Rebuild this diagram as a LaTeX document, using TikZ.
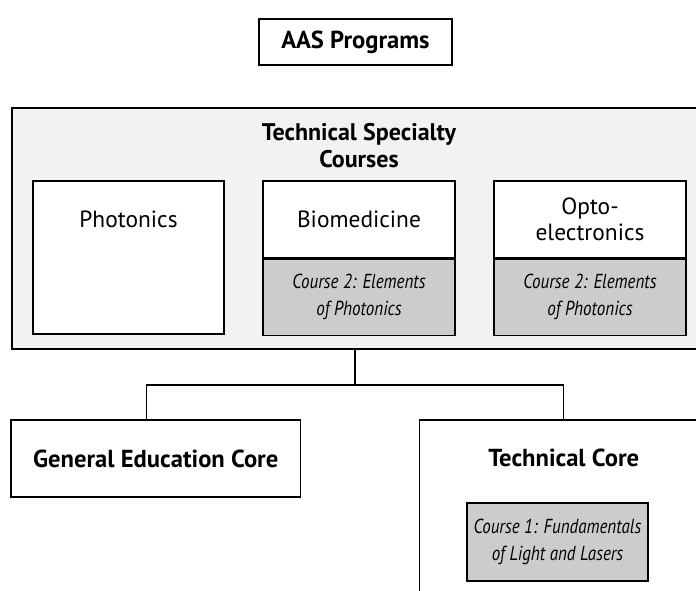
\documentclass[tikz,border=0pt]{standalone}
\usepackage{fontspec}
\setmainfont{PT Sans}
\newfontfamily\narrowit[FakeStretch=0.84]{PT Sans}
\usetikzlibrary{positioning}

\begin{document}
\begin{tikzpicture}[x=0.03cm, y=-0.03cm,
  box/.style={draw, line width=1.1pt, fill=white, align=center, inner sep=0pt},
  headbox/.style={box, font=\fontsize{21}{23}\selectfont\bfseries},
  coursebox/.style={box, fill=black!20, minimum width=5.76cm, minimum height=2.28cm, font=\fontsize{17.3}{23}\selectfont\narrowit\itshape},
  areabox/.style={box, minimum width=5.76cm, minimum height=2.31cm, font=\fontsize{20}{22}\selectfont},
  link/.style={line width=1.1pt}
]
\useasboundingbox (0,0) rectangle (696,591);
\clip (0,0) rectangle (696,591);

\node[headbox, minimum width=5.79cm, minimum height=1.38cm] (aas) at (355.5,42) {AAS Programs};

% technical specialty block
\node[box, fill=black!5, minimum width=21.24cm, minimum height=7.23cm] (spec) at (366,228.5) {};
\node[font=\fontsize{20.5}{23}\selectfont\bfseries, align=center] (spectitle) at (359,146) {Technical Specialty\\Courses};

\node[box, minimum width=5.73cm, minimum height=4.59cm] (pho) at (128.5,257.5) {};
\node[areabox, draw=none, fill=none, below=0pt of pho.north] (pholbl) {Photonics};

\node[areabox] (bio) at (359,219.5) {Biomedicine};
\node[coursebox, below=0pt of bio] (bioc) {Course 2: Elements\\of Photonics};

\node[areabox] (opto) at (590,219.5) {Opto-\\electronics};
\node[coursebox, below=0pt of opto] (optoc) {Course 2: Elements\\of Photonics};

% cores
\node[headbox, minimum width=8.685cm, minimum height=2.31cm] (gen) at (155.75,458.5) {General Education Core};
\node[box, minimum width=8.655cm, minimum height=6cm] (tech) at (563.75,520) {};
\node[font=\fontsize{21}{23}\selectfont\bfseries] (techlbl) at (563.75,458) {Technical Core};
\node[coursebox, minimum width=5.43cm, minimum height=2.34cm] (fund) at (557.5,542) {Course 1: Fundamentals\\of Light and Lasers};

\coordinate (split) at (355,385);
\draw[link] (split |- spec.south) -- (split);
\draw[link] ([xshift=-0.27cm]gen.north) |- (split) -| (tech.north);
\end{tikzpicture}
\end{document}
